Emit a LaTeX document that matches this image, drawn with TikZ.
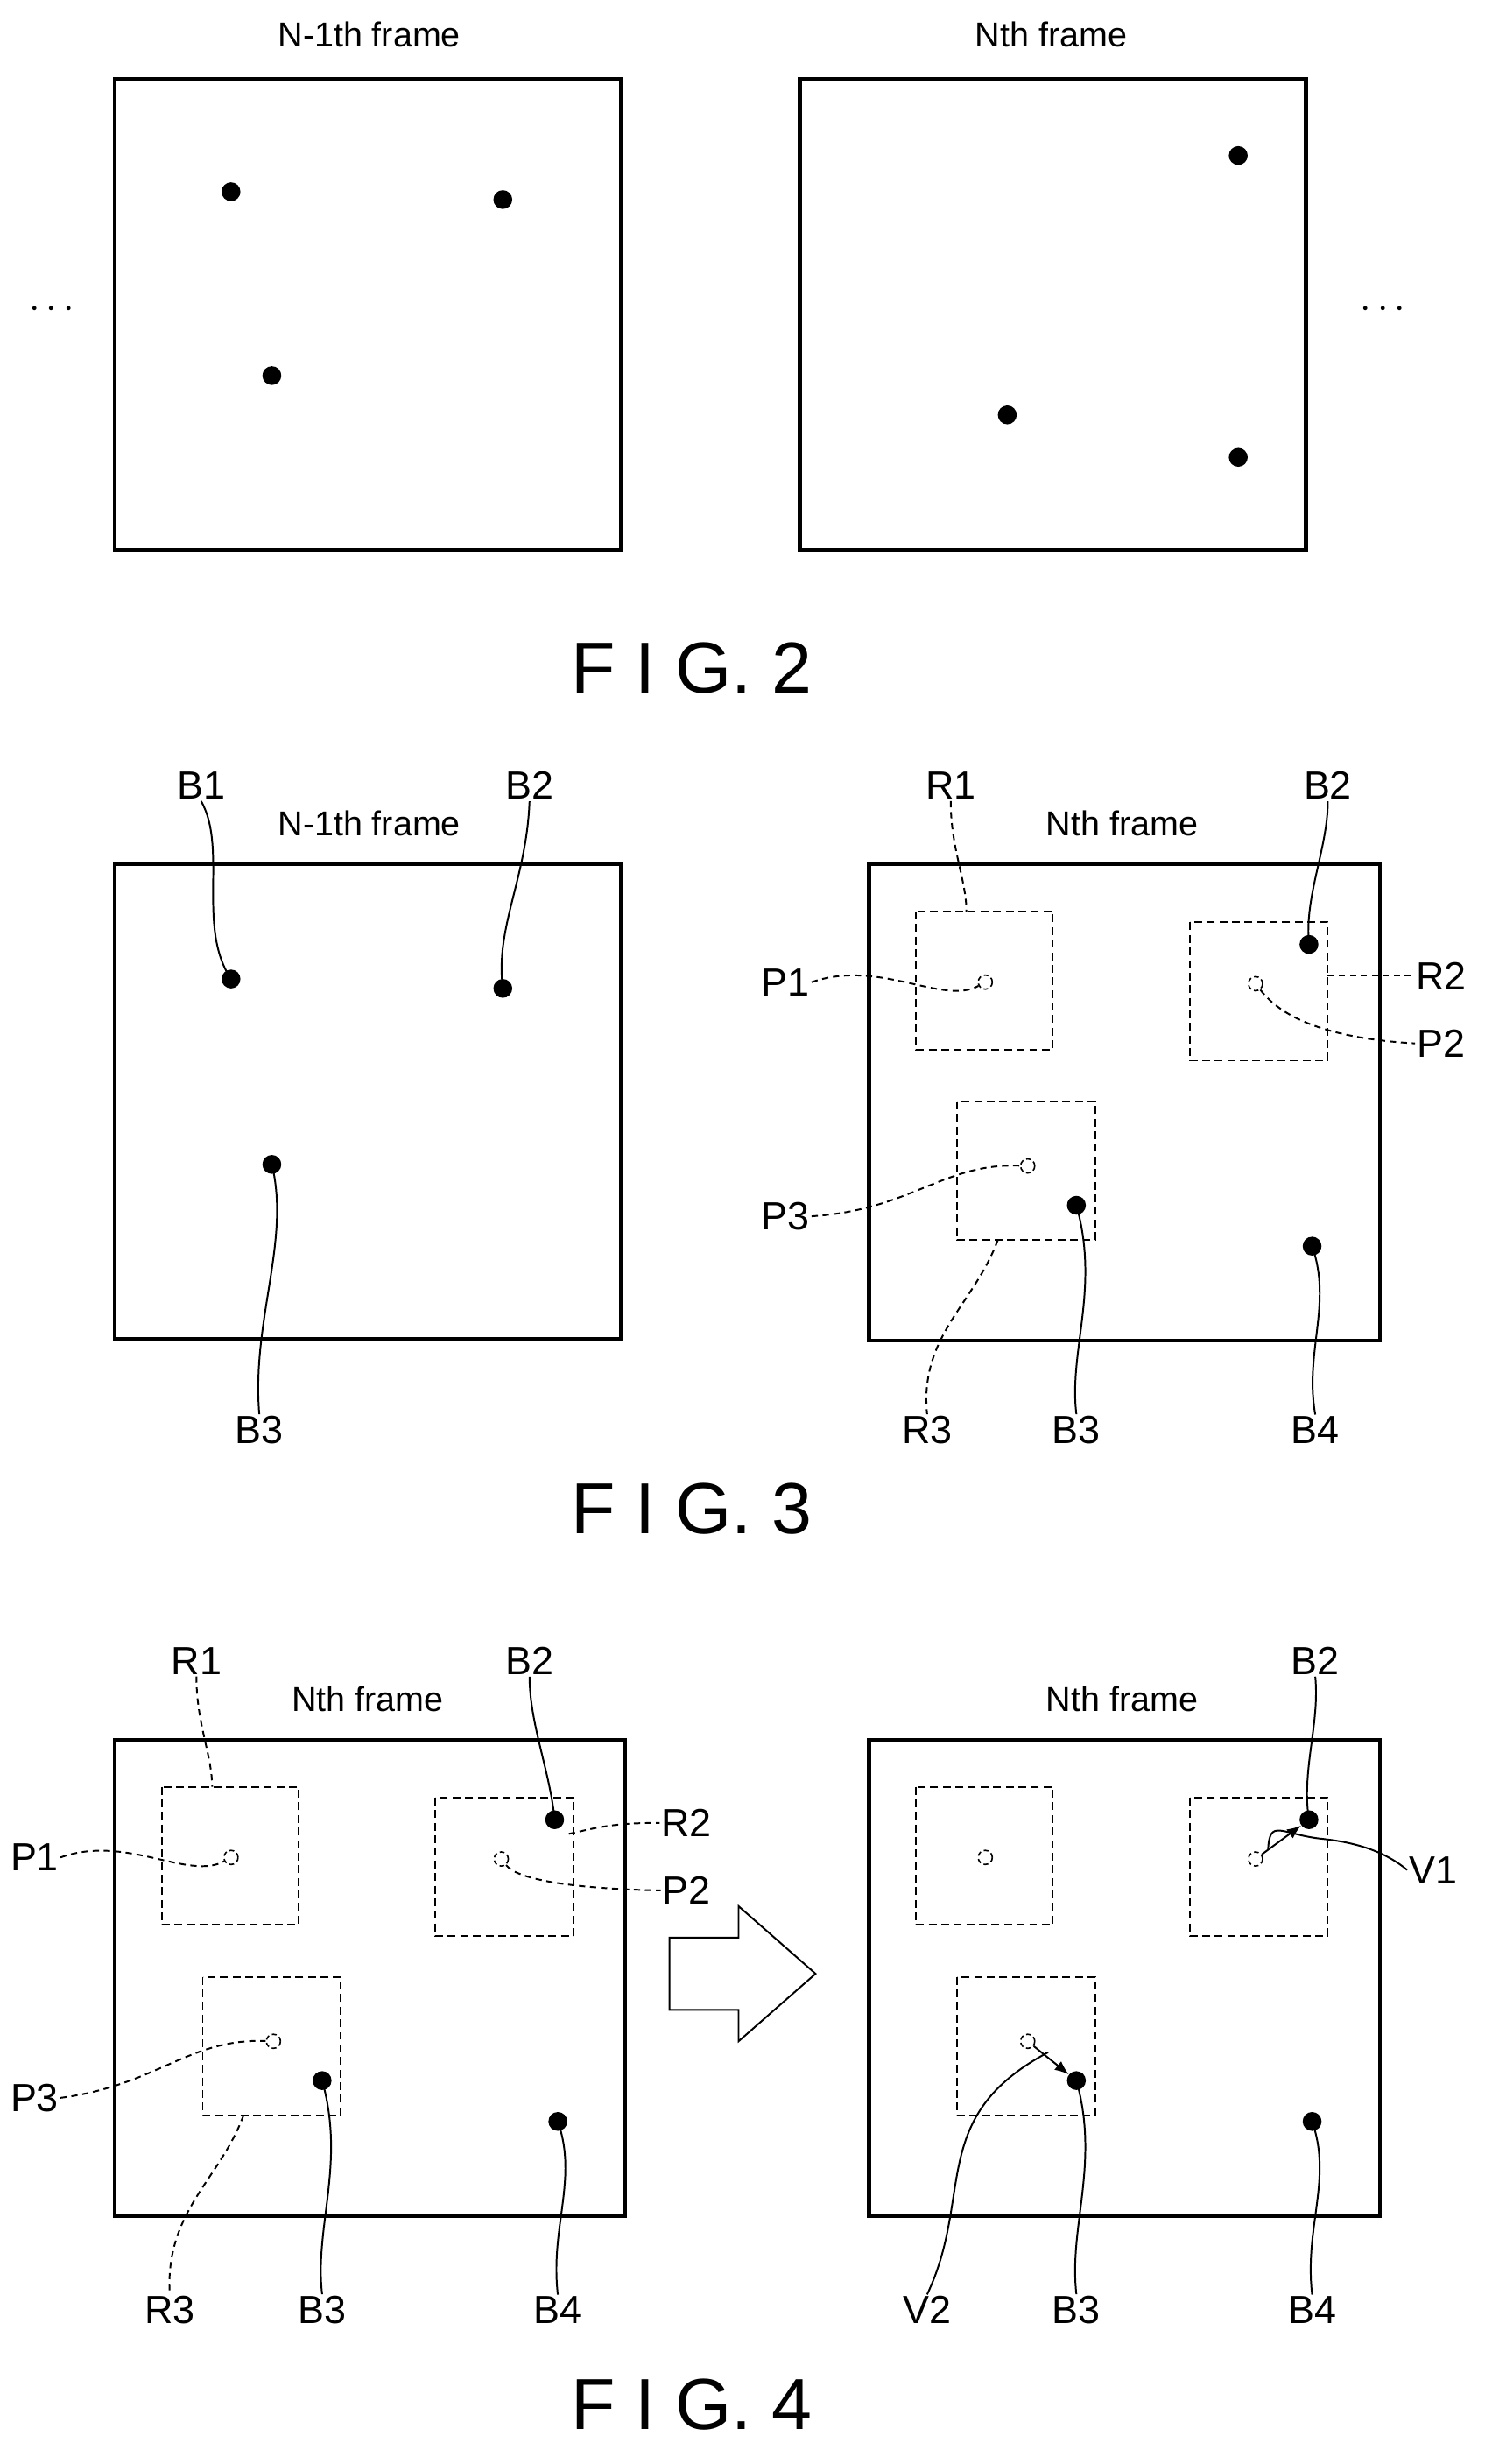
\documentclass[tikz,border=0pt]{standalone}
\usepackage{fontspec}
\setmainfont{Liberation Sans}
\usetikzlibrary{arrows.meta}
\begin{document}
\begin{tikzpicture}[x=1pt,y=-1pt,
  frame/.style={draw,line width=2.4pt},
  dot/.style={circle,fill=black,inner sep=0pt,minimum size=12pt},
  ghost/.style={circle,draw,densely dashed,line width=0.9pt,inner sep=0pt,minimum size=9pt},
  region/.style={draw,dash pattern=on 5pt off 3pt,line width=1.1pt},
  lead/.style={line width=1.1pt},
  dlead/.style={line width=1.1pt,dash pattern=on 4pt off 3pt},
  ttl/.style={font=\fontsize{22}{22}\selectfont},
  lbl/.style={font=\fontsize{25}{25}\selectfont,inner sep=1pt},
  fig/.style={font=\fontsize{46}{46}\selectfont}]
\useasboundingbox (0,0) rectangle (945,1568);
\newcommand\myregions[1]{%
  \draw[frame] (553,550) rectangle (878,853);
  \draw[region] (583,580) rectangle (670,668);
  \draw[region] (757,587) rectangle (845,675);
  \draw[region] (609,701) rectangle (697,789);
  \node[ghost] (#1p1) at (627,625) {};
  \node[ghost] (#1p2) at (799,626) {};
  \node[ghost] (#1p3) at (654,742) {};
  \node[dot] (#1b2) at (833,601) {};
  \node[dot] (#1b3) at (685,767) {};
  \node[dot] (#1b4) at (835,793) {};
  \node[ttl] (#1t) at (714,524) {Nth frame};
}
% FIG 2
\draw[frame] (73,50) rectangle (395,350);
\draw[frame] (509,50) rectangle (831,350);
\node[ttl] (t2a) at (235,22) {N-1th frame};
\node[ttl] (t2b) at (669,22) {Nth frame};
\node[dot] (a1) at (147,122) {};
\node[dot] (a2) at (320,127) {};
\node[dot] (a3) at (173,239) {};
\node[dot] (a4) at (788,99) {};
\node[dot] (a5) at (641,264) {};
\node[dot] (a6) at (788,291) {};
\node[lbl] (e1) at (33,197) {$\cdots$};
\node[lbl] (e2) at (880,197) {$\cdots$};
\node[fig] (f2) at (440,425) {F I G. 2};
% FIG 3 left
\draw[frame] (73,550) rectangle (395,852);
\node[ttl] (t3a) at (235,524) {N-1th frame};
\node[dot] (c1) at (147,623) {};
\node[dot] (c2) at (320,629) {};
\node[dot] (c3) at (173,741) {};
\node[lbl] (lb1) at (128,500) {B1};
\node[lbl] (lb2) at (337,500) {B2};
\node[lbl] (lb3) at (165,910) {B3};
\draw[lead] (lb1.south) .. controls (145,540) and (125,590) .. (c1.center);
\draw[lead] (lb2.south) .. controls (335,560) and (315,590) .. (c2.center);
\draw[lead] (c3.center) .. controls (185,790) and (160,840) .. (lb3.north);
% FIG 3 right
\myregions{r}
\node[lbl] (rR1) at (605,500) {R1};
\node[lbl] (rB2) at (845,500) {B2};
\node[lbl] (rP1) at (500,625) {P1};
\node[lbl] (rR2) at (917,621) {R2};
\node[lbl] (rP2) at (917,664) {P2};
\node[lbl] (rP3) at (500,774) {P3};
\node[lbl] (rR3) at (590,910) {R3};
\node[lbl] (rB3) at (685,910) {B3};
\node[lbl] (rB4) at (837,910) {B4};
\draw[dlead] (rR1.south) .. controls (605,540) and (615,560) .. (615,580);
\draw[lead] (rB2.south) .. controls (845,540) and (830,570) .. (rb2.center);
\draw[dlead] (rP1.east) .. controls (560,610) and (600,640) .. (rp1);
\draw[dlead] (845,621) -- (rR2.west);
\draw[dlead] (rp2) .. controls (810,640) and (830,660) .. (rP2.west);
\draw[dlead] (rP3.east) .. controls (580,770) and (600,740) .. (rp3);
\draw[dlead] (635,789) .. controls (620,830) and (585,850) .. (rR3.north);
\draw[lead] (rb3.center) .. controls (700,820) and (680,860) .. (rB3.north);
\draw[lead] (rb4.center) .. controls (848,830) and (830,860) .. (rB4.north);
\node[fig] (f3) at (440,960) {F I G. 3};
% FIG 4 left
\begin{scope}[shift={(-480,557)}]
\myregions{s}
\node[lbl] (sR1) at (605,500) {R1};
\node[lbl] (sB2) at (817,500) {B2};
\node[lbl] (sP1) at (502,625) {P1};
\node[lbl] (sR2) at (917,603) {R2};
\node[lbl] (sP2) at (917,646) {P2};
\node[lbl] (sP3) at (502,778) {P3};
\node[lbl] (sR3) at (588,913) {R3};
\node[lbl] (sB3) at (685,913) {B3};
\node[lbl] (sB4) at (835,913) {B4};
\draw[dlead] (sR1.south) .. controls (605,540) and (615,560) .. (615,580);
\draw[lead] (sB2.south) .. controls (817,540) and (830,570) .. (sb2.center);
\draw[dlead] (sP1.east) .. controls (560,610) and (600,640) .. (sp1);
\draw[dlead] (842,610) .. controls (860,606) and (870,603) .. (sR2.west);
\draw[dlead] (sp2) .. controls (810,640) and (850,645) .. (sP2.west);
\draw[dlead] (sP3.east) .. controls (580,770) and (600,740) .. (sp3);
\draw[dlead] (635,789) .. controls (620,830) and (585,850) .. (sR3.north);
\draw[lead] (sb3.center) .. controls (700,820) and (680,860) .. (sB3.north);
\draw[lead] (sb4.center) .. controls (848,830) and (830,860) .. (sB4.north);
\end{scope}
% block arrow
\draw[line width=1.1pt] (426,1233) -- (470,1233) -- (470,1213) -- (519,1256) -- (470,1299) -- (470,1279) -- (426,1279) -- cycle;
% FIG 4 right
\begin{scope}[shift={(0,557)}]
\myregions{u}
\node[lbl] (uB2) at (837,500) {B2};
\node[lbl] (uV1) at (912,633) {V1};
\node[lbl] (uV2) at (590,913) {V2};
\node[lbl] (uB3) at (685,913) {B3};
\node[lbl] (uB4) at (835,913) {B4};
\draw[lead] (uB2.south) .. controls (840,540) and (828,570) .. (ub2.center);
\draw[lead,-{Latex[length=9pt,width=7pt]}] (up2) -- (ub2);
\draw[lead,-{Latex[length=9pt,width=7pt]}] (up3) -- (ub3);
\draw[lead] (uV1.west) .. controls (880,620) and (860,615) .. (840,613) .. controls (815,610) and (808,600) .. (807,620);
\draw[lead] (uV2.north) .. controls (620,840) and (590,790) .. (667,749);
\draw[lead] (ub3.center) .. controls (700,820) and (680,860) .. (uB3.north);
\draw[lead] (ub4.center) .. controls (848,830) and (830,860) .. (uB4.north);
\end{scope}
\node[fig] (f4) at (440,1530) {F I G. 4};
\end{tikzpicture}
\end{document}
